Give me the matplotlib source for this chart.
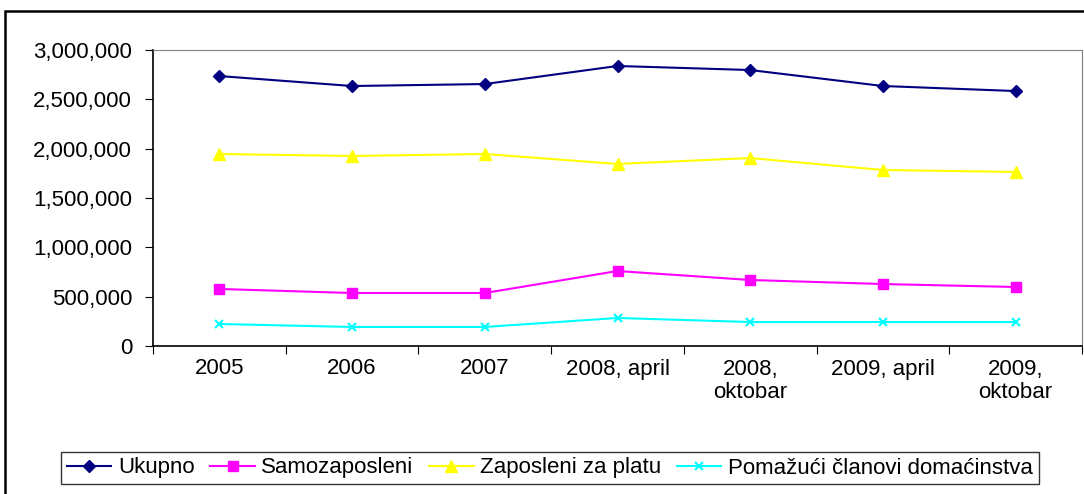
import numpy as np
import matplotlib.pyplot as plt
import matplotlib.patches as patches
from matplotlib.ticker import FuncFormatter

plt.rcParams['font.family'] = ['Liberation Sans', 'DejaVu Sans']

categories = ['2005', '2006', '2007', '2008, april', '2008,\noktobar', '2009, april', '2009,\noktobar']

ukupno = [2736000, 2635000, 2655000, 2838000, 2797000, 2635000, 2584000]
samozaposleni = [578000, 537000, 537000, 760000, 669000, 628000, 598000]
zaposleni_za_platu = [1946000, 1926000, 1946000, 1845000, 1905000, 1784000, 1764000]
pomazuci = [223000, 193000, 193000, 284000, 243000, 243000, 243000]

series = [
    ('Ukupno', ukupno, '#000080', 'D', 6),
    ('Samozaposleni', samozaposleni, '#FF00FF', 's', 7),
    ('Zaposleni za platu', zaposleni_za_platu, '#FFFF00', '^', 8),
    ('Pomažući članovi domaćinstva', pomazuci, '#00FFFF', 'x', 6),
]

fig = plt.figure(figsize=(10.84, 4.94), dpi=100)

# outer frame (cut off at right and bottom)
frame = patches.Rectangle((5 / 1084, -0.1), 1.2, 1 - 11 / 494 + 0.1,
                          transform=fig.transFigure, fill=False,
                          edgecolor='black', linewidth=1.8)
fig.patches.append(frame)

ax = fig.add_axes([153 / 1084, 1 - 346 / 494, (1082 - 153) / 1084, (346 - 50) / 494])

x = np.arange(len(categories))
for name, vals, col, mk, ms in series:
    ax.plot(x, vals, color=col, marker=mk, markersize=ms, linewidth=1.5,
            markeredgewidth=1.5 if mk == 'x' else 1, label=name)

ax.set_xlim(-0.5, len(categories) - 0.5)
ax.set_ylim(0, 3000000)
ax.set_yticks(np.arange(0, 3000001, 500000))
ax.yaxis.set_major_formatter(FuncFormatter(lambda v, p: f'{int(v):,}'))

ax.set_xticks(np.arange(-0.5, len(categories)), labels=[''] * (len(categories) + 1))
ax.set_xticks(x, labels=categories, minor=True)
ax.tick_params(axis='x', which='minor', length=0, pad=9, labelsize=16)
ax.tick_params(axis='x', which='major', length=6, direction='out', color='black')
ax.tick_params(axis='y', length=6, direction='out', labelsize=16, pad=9)
for lbl in ax.get_xticklabels(minor=True):
    lbl.set_linespacing(1.15)

for s in ['top', 'right']:
    ax.spines[s].set_color('#808080')
for s in ['left', 'bottom']:
    ax.spines[s].set_color('black')
    ax.spines[s].set_linewidth(1.2)

leg = fig.legend(loc='center', bbox_to_anchor=(550 / 1084, 1 - 468 / 494), ncol=4,
                 fontsize=16, frameon=True, fancybox=False, edgecolor='black',
                 handlelength=2.0, handletextpad=0.3, columnspacing=0.7,
                 borderpad=0.25)
leg.get_frame().set_linewidth(1.0)

plt.savefig('out.png', dpi=100)
